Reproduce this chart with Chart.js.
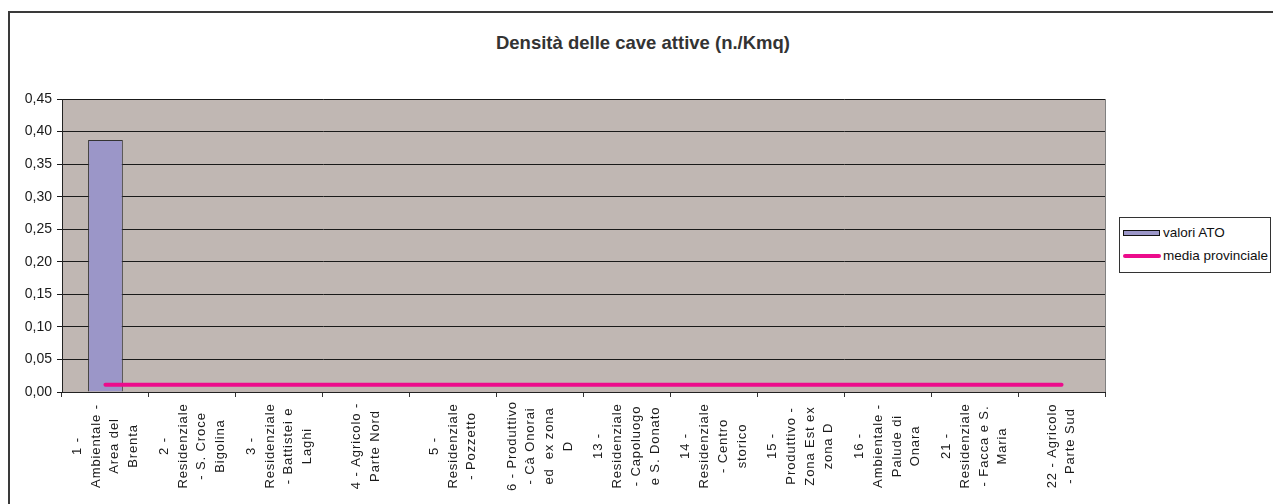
<!DOCTYPE html>
<html>
<head>
<meta charset="utf-8">
<script src="https://cdn.jsdelivr.net/npm/chart.js@4/dist/chart.umd.min.js"></script>
<style>
body{margin:0;background:#fff;font-family:'Liberation Sans',Arial,sans-serif;}
#wrap{position:relative;width:1273px;height:504px;overflow:hidden;}
#frame{position:absolute;left:8px;top:11px;width:1300px;height:600px;border-left:2px solid #3a3a3a;border-top:2px solid #3a3a3a;}
#title{position:absolute;left:0;width:1286px;top:32px;line-height:22px;text-align:center;font-weight:bold;font-size:18.5px;color:#333;}
#my_canvas{position:absolute;left:0;top:0;}
#legend{position:absolute;left:1119px;top:217px;width:150px;height:54px;border:1px solid #333;background:#fff;font-size:13.5px;color:#111;}
.item{position:absolute;left:0;width:150px;height:20px;}
.item span{position:absolute;left:43px;top:2px;white-space:nowrap;}
.swatch{position:absolute;left:3px;}
</style>
</head>
<body>
<div id="wrap">
  <div id="frame"></div>
  <div id="title">Densità delle cave attive (n./Kmq)</div>
  <canvas id="my_canvas" width="1273" height="504"></canvas>
  <div id="legend"></div>
</div>
<script>
// categories (ATO), one array of lines per label
const categories = [
    ['1 -','Ambientale -','Area del','Brenta'],
    ['2 -','Residenziale','- S. Croce','Bigolina'],
    ['3 -','Residenziale','- Battistei e','Laghi'],
    ['4 - Agricolo -','Parte Nord'],
    ['5 -','Residenziale','- Pozzetto'],
    ['6 - Produttivo','- Cà Onorai','ed  ex zona','D'],
    ['13 -','Residenziale','- Capoluogo','e S. Donato'],
    ['14 -','Residenziale','- Centro','storico'],
    ['15 -','Produttivo -','Zona Est ex','zona D'],
    ['16 -','Ambientale -','Palude di','Onara'],
    ['21 -','Residenziale','- Facca e S.','Maria'],
    ['22 - Agricolo','- Parte Sud']
];
const valoriATO = [0.387, 0, 0, 0, 0, 0, 0, 0, 0, 0, 0, 0];
const mediaProvinciale = [0.0112, 0.0112, 0.0112, 0.0112, 0.0112, 0.0112, 0.0112, 0.0112, 0.0112, 0.0112, 0.0112, 0.0112];
const seriesNames = ['valori ATO', 'media provinciale'];
const yTickLabels = ['0,00','0,05','0,10','0,15','0,20','0,25','0,30','0,35','0,40','0,45'];

const barColor = '#9B96C8';
const lineColor = '#EC0C8C';

// plot area background + grey right edge
const plotBg = {
    id:'plotBg',
    beforeDraw(chart){
        const ctx = chart.ctx, a = chart.chartArea;
        ctx.save();
        ctx.fillStyle = '#C0B7B3';
        ctx.fillRect(a.left, a.top, a.right - a.left, a.bottom - a.top);
        ctx.strokeStyle = '#808080';
        ctx.lineWidth = 1;
        ctx.beginPath();
        ctx.moveTo(a.right + 0.5, a.top);
        ctx.lineTo(a.right + 0.5, a.bottom);
        ctx.stroke();
        ctx.restore();
    }
};

// rotated, centred multi-line category labels
const xLabels = {
    id:'xLabels',
    afterDraw(chart){
        const ctx = chart.ctx, x = chart.scales.x;
        const midY = chart.chartArea.bottom + 54;
        ctx.save();
        ctx.font = '13px "Liberation Sans", Arial, sans-serif';
        ctx.fillStyle = '#1a1a1a';
        ctx.textAlign = 'center';
        ctx.textBaseline = 'middle';
        if('letterSpacing' in ctx) ctx.letterSpacing = '0.9px';
        categories.forEach((lines, i) => {
            const cx = x.getPixelForValue(i);
            lines.forEach((t, j) => {
                const lx = cx + (j - (lines.length - 1) / 2) * 18.7;
                ctx.save();
                ctx.translate(lx, midY);
                ctx.rotate(-Math.PI / 2);
                ctx.fillText(t, 0, 0);
                ctx.restore();
            });
        });
        ctx.restore();
    }
};

const canvas_element = document.getElementById('my_canvas').getContext('2d');

const the_chart = new Chart(canvas_element, {
    type:'bar',
    data:{
        labels:categories,
        datasets:[
            {
                type:'line',
                label:seriesNames[1],
                data:mediaProvinciale,
                borderColor:lineColor,
                borderWidth:4,
                borderCapStyle:'round',
                pointRadius:0,
                tension:0,
                order:0
            },
            {
                label:seriesNames[0],
                data:valoriATO,
                backgroundColor:barColor,
                borderColor:'#333',
                borderWidth:1,
                barPercentage:0.4,
                categoryPercentage:1,
                order:1
            }
        ]
    },
    options:{
        responsive:false,
        animation:false,
        layout:{padding:{top:99, right:168, bottom:0, left:0}},
        plugins:{
            legend:{display:false},
            title:{display:false},
            tooltip:{enabled:false}
        },
        scales:{
            x:{
                offset:true,
                ticks:{display:false},
                grid:{
                    display:true,
                    offset:true,
                    drawOnChartArea:false,
                    drawTicks:true,
                    tickLength:5,
                    color:'#333'
                },
                border:{color:'#222', width:1},
                afterFit(s){ s.height = 112; }
            },
            y:{
                min:0,
                max:0.45,
                ticks:{
                    stepSize:0.05,
                    padding:5,
                    color:'#1a1a1a',
                    font:{size:14, family:'"Liberation Sans", Arial, sans-serif'},
                    callback:(value, index) => yTickLabels[index]
                },
                grid:{
                    color:'#1a1a1a',
                    lineWidth:1,
                    tickLength:5,
                    drawTicks:true
                },
                border:{color:'#222', width:1},
                afterFit(s){ s.width = 62; }
            }
        }
    },
    plugins:[plotBg, xLabels]
});

// html legend
const legend = document.getElementById('legend');
const rows = [
    {name:seriesNames[0], top:5, swatch:'top:7px;width:35px;height:4px;background:' + barColor + ';border:1px solid #111;'},
    {name:seriesNames[1], top:28, swatch:'top:8px;width:38px;height:4px;border-radius:2px;background:' + lineColor + ';'}
];
rows.forEach(r => {
    const d = document.createElement('div');
    d.className = 'item';
    d.style.top = r.top + 'px';
    d.innerHTML = '<div class="swatch" style="' + r.swatch + '"></div><span>' + r.name + '</span>';
    legend.appendChild(d);
});
</script>
</body>
</html>
